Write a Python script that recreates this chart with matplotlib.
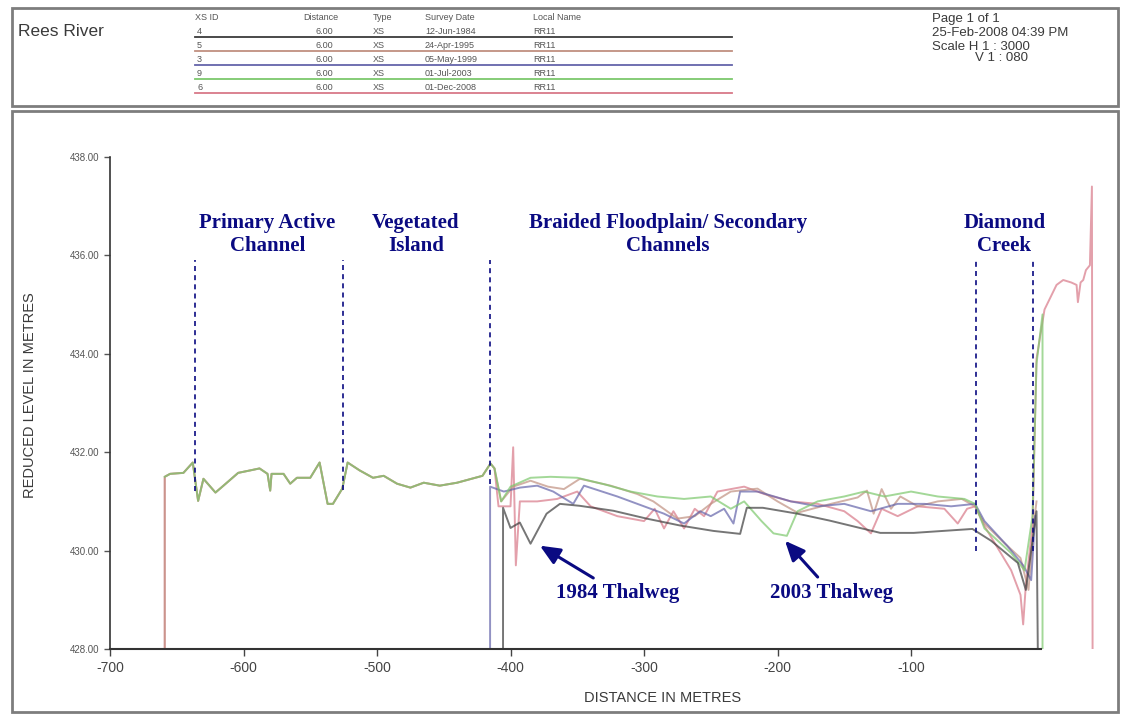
import matplotlib.pyplot as plt
from matplotlib.patches import Rectangle
from matplotlib.lines import Line2D

plt.rcParams['font.family'] = ['Liberation Sans', 'DejaVu Sans']
plt.rcParams['axes.unicode_minus'] = False

W, H = 1124, 715

# common part of the profile (left bank to the vegetated island)
shared_x = [-659, -655, -645, -638, -634, -630, -621, -615, -604, -595,
            -588, -582, -580, -579, -570, -565, -560, -550, -543, -537,
            -533, -526, -522, -513, -503, -495, -485, -475, -465, -453,
            -440, -421, -415, -412]
shared_y = [431.50, 431.56, 431.58, 431.79, 431.01, 431.46, 431.18, 431.32, 431.58, 431.63,
            431.67, 431.56, 431.22, 431.56, 431.56, 431.36, 431.48, 431.48, 431.79, 430.95,
            430.95, 431.26, 431.79, 431.63, 431.48, 431.52, 431.36, 431.28, 431.38, 431.32,
            431.38, 431.52, 431.77, 431.67]

x_1984 = [-405.6, -405.6, -400, -393, -385, -373, -363, -348, -323, -298,
          -273, -248, -228, -223, -211, -185, -161, -123, -98, -54,
          -40, -20, -14, -6, -5]
y_1984 = [427.9, 430.87, 430.46, 430.57, 430.14, 430.75, 430.95, 430.91, 430.81, 430.65,
          430.51, 430.40, 430.34, 430.87, 430.87, 430.75, 430.61, 430.36, 430.36, 430.44,
          430.2, 429.75, 429.2, 430.8, 427.9]

x_1995 = [-659] + shared_x + [-407, -398, -385, -372, -360, -348, -325, -305, -293, -275,
                              -262, -250, -235, -215, -200, -185, -160, -140, -133, -128,
                              -122, -115, -108, -95, -80, -62, -52, -45, -30, -18,
                              -12, -8, -6]
y_1995 = [427.9] + shared_y + [431.0, 431.3, 431.42, 431.3, 431.25, 431.46, 431.32, 431.15, 431.0, 430.65,
                               430.7, 430.95, 431.2, 431.26, 431.0, 430.77, 430.95, 431.08, 431.22, 430.75,
                               431.25, 430.85, 431.1, 430.9, 431.0, 431.05, 430.9, 430.55, 430.15, 429.85,
                               429.2, 430.55, 431.0]

x_1999 = [-415.3, -415.3, -405, -393, -380, -368, -353, -345, -320, -300,
          -285, -270, -258, -250, -240, -233, -228, -215, -190, -170,
          -150, -130, -110, -90, -70, -52, -45, -28, -16, -10, -7]
y_1999 = [427.9, 431.3, 431.2, 431.28, 431.32, 431.2, 430.95, 431.32, 431.1, 430.9,
          430.75, 430.55, 430.8, 430.7, 430.85, 430.55, 431.2, 431.2, 431.0, 430.9,
          430.95, 430.8, 430.95, 430.95, 430.9, 430.95, 430.6, 430.1, 429.7, 429.4, 430.7]

x_2003 = shared_x + [-407, -400, -385, -370, -350, -330, -310, -290, -270, -250,
                     -235, -225, -212, -203, -193, -185, -170, -150, -135, -120,
                     -100, -80, -60, -52, -45, -25, -15, -9, -6, -1.5, -1.5]
y_2003 = shared_y + [431.0, 431.3, 431.48, 431.5, 431.48, 431.35, 431.2, 431.1, 431.05, 431.1,
                     430.85, 431.0, 430.6, 430.35, 430.3, 430.8, 431.0, 431.1, 431.2, 431.1,
                     431.2, 431.1, 431.05, 430.95, 430.45, 429.95, 429.6, 430.7, 433.8, 434.8, 427.9]

x_2008 = [-659] + shared_x + [-409, -400, -398, -396, -393, -380, -365, -350, -340, -320,
                              -300, -292, -285, -278, -270, -262, -255, -245, -225, -210,
                              -190, -170, -150, -140, -130, -122, -110, -95, -75, -65,
                              -58, -52, -45, -25, -18, -16, -14, -9, -6, 0,
                              9, 14, 20, 24, 25, 27, 29, 31, 34, 35.5, 36]
y_2008 = [427.9] + shared_y + [430.9, 430.9, 432.1, 429.7, 431.0, 431.0, 431.05, 431.2, 430.9, 430.7,
                               430.6, 430.85, 430.45, 430.8, 430.45, 430.85, 430.7, 431.2, 431.3, 431.15,
                               431.0, 430.95, 430.8, 430.6, 430.35, 430.85, 430.7, 430.9, 430.85, 430.55,
                               430.85, 430.9, 430.5, 429.6, 429.1, 428.5, 429.3, 430.5, 433.9, 434.9,
                               435.4, 435.5, 435.45, 435.4, 435.05, 435.45, 435.5, 435.7, 435.8, 437.4, 427.9]

# legend table in the header
xs_ids = ['4', '5', '3', '9', '6']
distances = ['6.00', '6.00', '6.00', '6.00', '6.00']
survey_dates = ['12-Jun-1984', '24-Apr-1995', '05-May-1999', '01-Jul-2003', '01-Dec-2008']
local_names = ['RR11', 'RR11', 'RR11', 'RR11', 'RR11']
cores = ['#3c3c3c', '#c09080', '#6464aa', '#7cc86c', '#d87888']

# zones (x of the dashed separators) and labels
divisores = [-636, -525.5, -415, -51, -9]
divisores_base = [431.22, 431.24, 431.36, 430.0, 430.0]
zonas = ['Primary Active\nChannel', 'Vegetated\nIsland',
         'Braided Floodplain/ Secondary\nChannels', 'Diamond\nCreek']
zonas_x = [-582, -471, -282, -30]

NAVY = '#0a0a82'


def fx(px):
    return px / W


def fy(py):
    return 1 - py / H


def desenhar_cabecalho(fig):
    borda = '#7d7d7d'
    fig.add_artist(Rectangle((fx(12), fy(106)), fx(1106), 98 / H, transform=fig.transFigure,
                             fill=False, edgecolor=borda, linewidth=2))
    fig.add_artist(Rectangle((fx(12), fy(712)), fx(1106), 601 / H, transform=fig.transFigure,
                             fill=False, edgecolor=borda, linewidth=2))
    fig.text(fx(18), fy(31), 'Rees River', fontsize=12.5, color='#3a3a3a', va='center')

    cab = '#555555'
    fs = 6.5
    fig.text(fx(195), fy(17), 'XS ID', fontsize=fs, color=cab, va='center')
    fig.text(fx(303), fy(17), 'Distance', fontsize=fs, color=cab, va='center')
    fig.text(fx(373), fy(17), 'Type', fontsize=fs, color=cab, va='center')
    fig.text(fx(425), fy(17), 'Survey Date', fontsize=fs, color=cab, va='center')
    fig.text(fx(533), fy(17), 'Local Name', fontsize=fs, color=cab, va='center')
    for i in range(len(xs_ids)):
        yl = 32 + i * 14
        fig.text(fx(197), fy(yl), xs_ids[i], fontsize=fs, color=cab, va='center')
        fig.text(fx(333), fy(yl), distances[i], fontsize=fs, color=cab, va='center', ha='right')
        fig.text(fx(373), fy(yl), 'XS', fontsize=fs, color=cab, va='center')
        fig.text(fx(425), fy(yl), survey_dates[i], fontsize=fs, color=cab, va='center')
        fig.text(fx(533), fy(yl), local_names[i], fontsize=fs, color=cab, va='center')
        fig.add_artist(Line2D([fx(195), fx(732)], [fy(yl + 5), fy(yl + 5)],
                              transform=fig.transFigure, color=cores[i], linewidth=1.3))

    fig.text(fx(932), fy(19), 'Page 1 of 1', fontsize=9.5, color='#3a3a3a', va='center')
    fig.text(fx(932), fy(33), '25-Feb-2008 04:39 PM', fontsize=9.5, color='#3a3a3a', va='center')
    fig.text(fx(932), fy(47), 'Scale H 1 : 3000', fontsize=9.5, color='#3a3a3a', va='center')
    fig.text(fx(975), fy(58), 'V 1 : 080', fontsize=9.5, color='#3a3a3a', va='center')


def plotar_perfil(ax):
    series = [(x_2008, y_2008, cores[4]), (x_1995, y_1995, cores[1]),
              (x_1999, y_1999, cores[2]), (x_2003, y_2003, cores[3]),
              (x_1984, y_1984, cores[0])]
    for xs, ys, cor in series:
        ax.plot(xs, ys, color=cor, linewidth=1.4, alpha=0.7)

    ax.set_xlim(-700, 45)
    ax.set_ylim(428, 438)
    ax.set_yticks([428, 430, 432, 434, 436, 438])
    ax.set_yticklabels([f'{v:.2f}' for v in [428, 430, 432, 434, 436, 438]])
    ax.set_xticks(range(-700, 0, 100))
    ax.tick_params(axis='y', labelsize=7, colors='#555555', length=4, width=1)
    ax.tick_params(axis='x', labelsize=10, colors='#444444', length=5, width=1)
    for lado in ['top', 'right']:
        ax.spines[lado].set_visible(False)
    ax.spines['bottom'].set_bounds(-700, -3)
    ax.spines['left'].set_color('#333333')
    ax.spines['bottom'].set_color('#333333')
    ax.spines['left'].set_linewidth(1.2)
    ax.spines['bottom'].set_linewidth(1.5)

    # separadores tracejados das zonas
    for xd, yb in zip(divisores, divisores_base):
        ax.plot([xd, xd], [yb, 435.9], color=NAVY, linewidth=1.2, linestyle=(0, (3, 2.5)))

    for txt, xt in zip(zonas, zonas_x):
        ax.text(xt, 436.42, txt, ha='center', va='center', fontsize=15,
                fontweight='bold', color=NAVY, family='Liberation Serif', linespacing=1.22)

    seta = dict(arrowstyle='-|>,head_length=0.8,head_width=0.35',
                color=NAVY, lw=2.2, shrinkA=3, shrinkB=0)
    ax.annotate('1984 Thalweg', xy=(-378, 430.1), xytext=(-319.5, 429.14),
                ha='center', va='center', fontsize=15, fontweight='bold', color=NAVY,
                family='Liberation Serif', arrowprops=seta)
    ax.annotate('2003 Thalweg', xy=(-194.4, 430.2), xytext=(-159.2, 429.14),
                ha='center', va='center', fontsize=15, fontweight='bold', color=NAVY,
                family='Liberation Serif', arrowprops=seta)


def main():
    fig = plt.figure(figsize=(W / 100, H / 100), dpi=100)
    ax = fig.add_axes([fx(110), fy(649), (1104.6 - 110) / W, (649 - 157) / H])
    desenhar_cabecalho(fig)
    plotar_perfil(ax)
    fig.text(fx(663), fy(698), 'DISTANCE IN METRES', fontsize=10.5, color='#3a3a3a',
             ha='center', va='center')
    fig.text(fx(30), fy(395), 'REDUCED LEVEL IN METRES', fontsize=10.5, color='#3a3a3a',
             ha='center', va='center', rotation=90)
    fig.savefig('out.png', dpi=100)


if __name__ == '__main__':
    main()
